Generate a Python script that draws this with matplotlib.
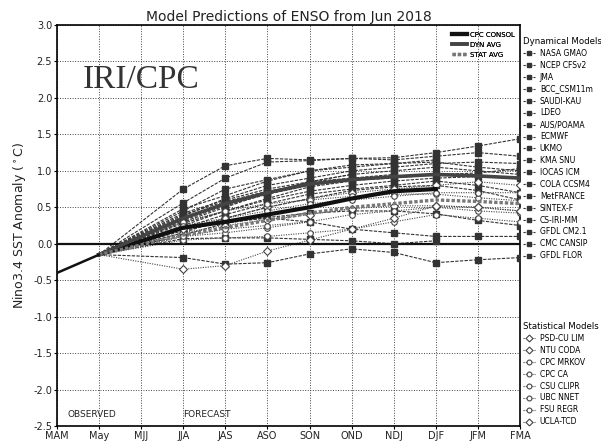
import numpy as np
import matplotlib
matplotlib.use("Agg")
import matplotlib.pyplot as plt
from matplotlib.lines import Line2D

nan = np.nan
seasons = ['MAM', 'May', 'MJJ', 'JJA', 'JAS', 'ASO', 'SON', 'OND', 'NDJ', 'DJF', 'JFM', 'FMA']
fc_seasons = ['JJA', 'JAS', 'ASO', 'SON', 'OND', 'NDJ', 'DJF', 'JFM', 'FMA']
obs_seasons = ['MAM', 'May']
obs_values = [-0.40, -0.15]

dyn_names = ['NASA GMAO', 'NCEP CFSv2', 'JMA', 'BCC_CSM11m', 'SAUDI-KAU', 'LDEO',
             'AUS/POAMA', 'ECMWF', 'UKMO', 'KMA SNU', 'IOCAS ICM', 'COLA CCSM4',
             'MetFRANCE', 'SINTEX-F', 'CS-IRI-MM', 'GFDL CM2.1', 'CMC CANSIP', 'GFDL FLOR']
nasa_gmao = [0.75, 1.07, 1.17, 1.15, 1.17, 1.18, 1.25, 1.34, 1.44]
ncep_cfsv2 = [0.56, 0.90, 1.12, 1.14, 1.17, 1.15, 1.20, 1.25, 1.20]
jma = [0.45, 0.75, 0.88, 1.00, 1.08, 1.10, 1.15, nan, nan]
bcc_csm11m = [0.38, 0.62, 0.80, 0.90, 1.00, 1.05, 1.10, 1.12, 1.10]
saudi_kau = [0.48, 0.66, 0.86, 1.00, 1.05, 1.10, 1.12, 1.05, 1.00]
ldeo = [0.30, 0.50, 0.70, 0.85, 0.95, 1.00, 1.05, 1.00, 0.95]
aus_poama = [0.42, 0.60, 0.75, 0.85, 0.90, 0.95, nan, nan, nan]
ecmwf = [0.35, 0.55, 0.70, 0.85, 0.95, nan, nan, nan, nan]
ukmo = [0.40, 0.58, 0.72, 0.82, 0.88, nan, nan, nan, nan]
kma_snu = [0.25, 0.45, 0.60, 0.72, 0.80, 0.86, 0.90, 0.92, 0.90]
iocas_icm = [0.18, 0.30, 0.35, 0.30, 0.20, 0.15, 0.10, 0.10, 0.10]
cola_ccsm4 = [0.32, 0.52, 0.68, 0.80, 0.87, 0.90, 0.95, 0.97, 1.03]
metfrance = [0.28, 0.45, 0.62, 0.78, 0.86, nan, nan, nan, nan]
sintex_f = [0.22, 0.40, 0.55, 0.68, 0.75, 0.80, 0.86, 0.80, 0.70]
cs_iri_mm = [0.15, 0.35, 0.50, 0.62, 0.73, 0.78, 0.80, 0.73, 0.60]
gfdl_cm21 = [0.07, 0.08, 0.08, 0.06, 0.04, 0.00, 0.04, nan, nan]
cmc_cansip = [0.12, 0.28, 0.36, 0.42, 0.45, 0.45, 0.41, 0.32, 0.25]
gfdl_flor = [-0.19, -0.28, -0.26, -0.14, -0.07, -0.12, -0.26, -0.22, -0.19]
dyn_values = [nasa_gmao, ncep_cfsv2, jma, bcc_csm11m, saudi_kau, ldeo, aus_poama, ecmwf,
              ukmo, kma_snu, iocas_icm, cola_ccsm4, metfrance, sintex_f, cs_iri_mm,
              gfdl_cm21, cmc_cansip, gfdl_flor]

stat_names = ['PSD-CU LIM', 'NTU CODA', 'CPC MRKOV', 'CPC CA', 'CSU CLIPR', 'UBC NNET',
              'FSU REGR', 'UCLA-TCD']
psd_cu_lim = [0.15, 0.25, 0.33, 0.40, 0.48, 0.52, 0.52, 0.50, 0.45]
ntu_coda = [0.20, 0.35, 0.50, 0.62, 0.70, 0.75, 0.80, 0.85, 0.80]
cpc_mrkov = [0.10, 0.15, 0.22, 0.30, 0.40, 0.45, 0.50, 0.45, 0.42]
cpc_ca = [0.05, 0.08, 0.10, 0.15, 0.20, 0.30, 0.40, 0.35, 0.30]
csu_clipr = [0.30, 0.45, 0.55, 0.60, 0.65, 0.68, 0.68, 0.63, 0.59]
ubc_nnet = [0.25, 0.35, 0.45, 0.55, 0.60, 0.65, 0.70, 0.70, 0.70]
fsu_regr = [0.10, 0.20, 0.25, 0.30, nan, nan, nan, nan, nan]
ucla_tcd = [-0.35, -0.30, -0.10, 0.05, 0.20, 0.35, 0.52, 0.50, 0.45]
stat_values = [psd_cu_lim, ntu_coda, cpc_mrkov, cpc_ca, csu_clipr, ubc_nnet, fsu_regr, ucla_tcd]

avg_names = ['CPC CONSOL', 'DYN AVG', 'STAT AVG']
cpc_consol = [0.22, 0.30, 0.40, 0.50, 0.62, 0.72, 0.75, nan, nan]
dyn_avg = [0.35, 0.55, 0.70, 0.82, 0.88, 0.92, 0.95, 0.93, 0.90]
stat_avg = [0.12, 0.22, 0.32, 0.42, 0.50, 0.55, 0.60, 0.58, 0.55]
avg_values = [cpc_consol, dyn_avg, stat_avg]

yticks = [-2.5, -2.0, -1.5, -1.0, -0.5, 0.0, 0.5, 1.0, 1.5, 2.0, 2.5, 3.0]

xpos = {s: i for i, s in enumerate(seasons)}
fx = [xpos[s] for s in fc_seasons]
ox = [xpos[s] for s in obs_seasons]
link_x = [xpos['May']] + fx

fig = plt.figure(figsize=(6.01, 4.46), dpi=100)
ax = fig.add_axes([57 / 601, 1 - 426 / 446, (520 - 57) / 601, (426 - 25) / 446])
ax.set_xlim(0, len(seasons) - 1)
ax.set_ylim(-2.5, 3.0)
ax.set_xticks(range(len(seasons)))
ax.set_xticklabels(seasons, fontsize=7, color='#222')
ax.set_yticks(yticks)
ax.set_yticklabels(['%.1f' % v for v in yticks], fontsize=7, color='#222')
ax.tick_params(length=2, pad=1.5)
ax.grid(True, color='#444', linestyle=(0, (1, 1.6)), linewidth=0.7)
for sp in ax.spines.values():
    sp.set_linewidth(1.2)

ax.axhline(0, color='#111', lw=1.6, zorder=3)

dyn_handles = []
for name, vals in zip(dyn_names, dyn_values):
    v = np.array(vals, dtype=float)
    ax.plot(link_x, [obs_values[-1]] + list(v), color='#333', lw=0.8,
            ls=(0, (3, 1.2)), zorder=2)
    ax.plot(fx, v, ls='none', marker='s', ms=4.2, mfc='#333', mec='#333', zorder=4)
    dyn_handles.append(Line2D([], [], color='#333', lw=0.8, ls=(0, (2, 1)),
                              marker='s', ms=3.5, mfc='#333', mec='#333'))

stat_markers = ['D', 'D', 'o', 'o', 'o', 'o', 'o', 'D']
stat_handles = []
for name, vals, mk in zip(stat_names, stat_values, stat_markers):
    v = np.array(vals, dtype=float)
    ax.plot(link_x, [obs_values[-1]] + list(v), color='#444', lw=0.8,
            ls=(0, (1, 1.2)), zorder=2)
    ax.plot(fx, v, ls='none', marker=mk, ms=4.0, mfc='white', mec='#444', mew=0.8, zorder=4)
    stat_handles.append(Line2D([], [], color='#444', lw=0.8, ls=(0, (1, 1)),
                               marker=mk, ms=3.5, mfc='white', mec='#444', mew=0.8))

avg_styles = [dict(color='#111', lw=3.0, ls='-'),
              dict(color='#444', lw=2.6, ls='-'),
              dict(color='#777', lw=2.4, ls=(0, (1, 0.6)))]
avg_handles = []
for name, vals, st in zip(avg_names, avg_values, avg_styles):
    v = np.array(vals, dtype=float)
    ax.plot(link_x, [obs_values[-1]] + list(v), zorder=5, **st)
    avg_handles.append(Line2D([], [], **st))

ax.plot(ox, obs_values, color='#111', lw=1.8, zorder=6)

ax.text(0.25, -2.38, 'OBSERVED', fontsize=6.5, color='#222')
ax.text(3.0, -2.38, 'FORECAST', fontsize=6.5, color='#222')
ax.text(0.6, 2.13, 'IRI/CPC', fontsize=24, family='Liberation Serif', color='#333')

leg_in = ax.legend(avg_handles, avg_names, loc='upper right', bbox_to_anchor=(1.0, 0.995),
                   frameon=False, fontsize=5, handlelength=2.2, labelspacing=0.55,
                   handletextpad=0.5, borderaxespad=0.3)
ax.add_artist(leg_in)

leg_d = fig.legend(dyn_handles, dyn_names, loc='upper left',
                   bbox_to_anchor=(523 / 601, 1 - 37 / 446), frameon=False, fontsize=5.5,
                   title='Dynamical Models', title_fontsize=6.2, alignment='left',
                   handlelength=1.6, labelspacing=0.38, handletextpad=0.6,
                   borderaxespad=0, borderpad=0)
leg_s = fig.legend(stat_handles, stat_names, loc='upper left',
                   bbox_to_anchor=(523 / 601, 1 - 322 / 446), frameon=False, fontsize=5.5,
                   title='Statistical Models', title_fontsize=6.2, alignment='left',
                   handlelength=1.6, labelspacing=0.38, handletextpad=0.6,
                   borderaxespad=0, borderpad=0)

ax.set_title('Model Predictions of ENSO from Jun 2018', fontsize=10, color='#222', pad=3)
ax.set_ylabel('Nino3.4 SST Anomaly ($^\\circ$C)', fontsize=9, color='#222', labelpad=4)

fig.savefig('out.png', dpi=100)
